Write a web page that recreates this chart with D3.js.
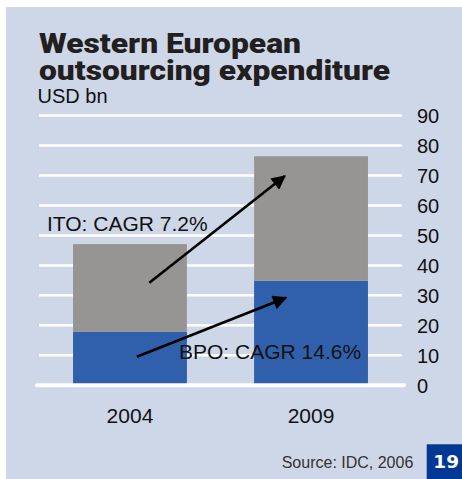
<!DOCTYPE html>
<html>
<head>
<meta charset="utf-8">
<script src="https://cdn.jsdelivr.net/npm/d3@7"></script>
<style>
  body { margin: 0; background: #ffffff; }
  svg { display: block; font-family: 'Liberation Sans', Arial, sans-serif; }
</style>
</head>
<body>
<div id="chart"></div>
<script>
// chart values
let years = ['2004', '2009'];
let bpo = [17.8, 34.9];
let ito = [29.3, 41.5];
let y_ticks = [0, 10, 20, 30, 40, 50, 60, 70, 80, 90];

// arrows: [year, position inside the bar, value]
let arrow_ito = [['2004', 0.67, 34.2], ['2009', 0.27, 69.8]];
let arrow_bpo = [['2004', 0.56, 9.5], ['2009', 0.28, 29.2]];

function draw_chart() {
    let width = 462, height = 479;

    let svg = d3.select('#chart').append('svg')
        .attr('width', width)
        .attr('height', height);

    // light blue panel
    svg.append('rect')
        .attr('x', 6).attr('y', 7)
        .attr('width', width - 6).attr('height', height - 7)
        .attr('fill', '#cdd7e8');

    let x = d3.scaleBand()
        .domain(years)
        .range([39, 402])
        .paddingInner(0.371)
        .paddingOuter(0.188);

    let y = d3.scaleLinear()
        .domain([0, 90])
        .range([385.3, 115.5]);

    // gridlines
    svg.append('g')
        .selectAll('line')
        .data(y_ticks.filter(d => d > 0))
        .enter()
        .append('line')
        .attr('x1', 39).attr('x2', 402)
        .attr('y1', d => y(d)).attr('y2', d => y(d))
        .attr('stroke', '#ffffff')
        .attr('stroke-width', 2.5);

    // stacked bars
    let stack = years.map((d, i) => ({year: d, bpo: bpo[i], ito: ito[i]}));
    let series = d3.stack().keys(['bpo', 'ito'])(stack);
    let colors = {bpo: '#3060ab', ito: '#969593'};

    svg.append('g')
        .selectAll('g')
        .data(series)
        .enter()
        .append('g')
        .attr('fill', d => colors[d.key])
        .selectAll('rect')
        .data(d => d)
        .enter()
        .append('rect')
        .attr('x', d => x(d.data.year))
        .attr('width', x.bandwidth())
        .attr('y', d => y(d[1]))
        .attr('height', d => y(d[0]) - y(d[1]));

    // zero line
    svg.append('line')
        .attr('x1', 37).attr('x2', 404)
        .attr('y1', y(0)).attr('y2', y(0))
        .attr('stroke', '#ffffff')
        .attr('stroke-width', 4)
        .attr('stroke-linecap', 'round');

    // y axis labels on the right
    let axis = svg.append('g')
        .attr('transform', 'translate(417,0)')
        .call(d3.axisRight(y).tickValues(y_ticks).tickSize(0).tickPadding(0));
    axis.select('.domain').remove();
    axis.selectAll('text')
        .attr('font-size', 20)
        .attr('font-family', "'Liberation Sans', Arial, sans-serif")
        .attr('fill', '#111111')
        .attr('dy', '0.36em');

    // year labels
    svg.append('g')
        .selectAll('text')
        .data(years)
        .enter()
        .append('text')
        .attr('x', d => x(d) + x.bandwidth() / 2)
        .attr('y', 422.5)
        .attr('text-anchor', 'middle')
        .attr('font-size', 21)
        .attr('fill', '#111111')
        .text(d => d);

    // arrows
    svg.append('defs').append('marker')
        .attr('id', 'head')
        .attr('viewBox', '0 0 10 10')
        .attr('refX', 9).attr('refY', 5)
        .attr('markerWidth', 6).attr('markerHeight', 5.5)
        .attr('markerUnits', 'strokeWidth')
        .attr('orient', 'auto')
        .append('path')
        .attr('d', 'M0,0 L10,5 L0,10 Z')
        .attr('fill', '#000000');

    let line = d3.line()
        .x(d => x(d[0]) + d[1] * x.bandwidth())
        .y(d => y(d[2]));

    svg.append('g')
        .selectAll('path')
        .data([arrow_ito, arrow_bpo])
        .enter()
        .append('path')
        .attr('d', line)
        .attr('fill', 'none')
        .attr('stroke', '#000000')
        .attr('stroke-width', 2.6)
        .attr('marker-end', 'url(#head)');

    // annotations
    svg.append('text')
        .attr('x', 47).attr('y', 230.5)
        .attr('font-size', 21)
        .attr('fill', '#111111')
        .text('ITO: CAGR 7.2%');

    svg.append('text')
        .attr('x', 179).attr('y', 359)
        .attr('font-size', 21)
        .attr('fill', '#111111')
        .text('BPO: CAGR 14.6%');

    // title
    let title = svg.append('g')
        .attr('font-family', "Roboto, 'DejaVu Sans', sans-serif")
        .attr('font-weight', 900)
        .attr('font-size', 27)
        .attr('fill', '#231f20');
    title.append('text')
        .attr('x', 39).attr('y', 52.7)
        .attr('textLength', 262)
        .attr('lengthAdjust', 'spacingAndGlyphs')
        .text('Western European');
    title.append('text')
        .attr('x', 39).attr('y', 80)
        .attr('textLength', 351)
        .attr('lengthAdjust', 'spacingAndGlyphs')
        .text('outsourcing expenditure');

    svg.append('text')
        .attr('x', 37.5).attr('y', 103.3)
        .attr('font-size', 20)
        .attr('fill', '#111111')
        .text('USD bn');

    // source and page number
    svg.append('text')
        .attr('x', 281.7).attr('y', 468.3)
        .attr('font-size', 16)
        .attr('fill', '#333333')
        .text('Source: IDC, 2006');

    svg.append('rect')
        .attr('x', 426.7).attr('y', 444.3)
        .attr('width', width - 426.7).attr('height', height - 444.3)
        .attr('fill', '#003893');

    svg.append('text')
        .attr('x', 433.3).attr('y', 468.3)
        .attr('font-size', 17)
        .attr('font-weight', 'bold')
        .attr('font-family', "'DejaVu Sans', sans-serif")
        .attr('textLength', 25.7)
        .attr('lengthAdjust', 'spacingAndGlyphs')
        .attr('fill', '#ffffff')
        .text('19');
}

draw_chart();
</script>
</body>
</html>
